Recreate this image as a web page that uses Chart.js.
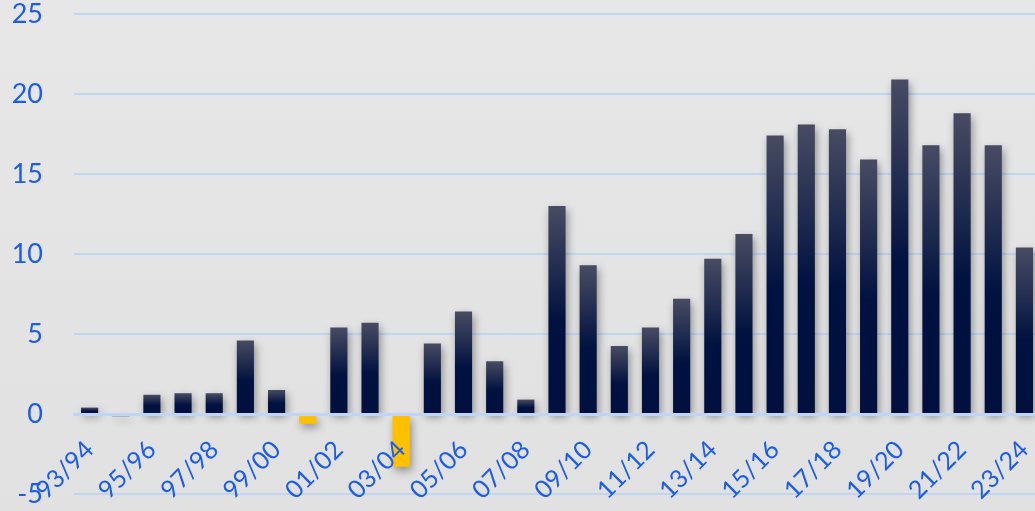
<!DOCTYPE html>
<html>
<head>
<meta charset="utf-8">
<script src="https://cdn.jsdelivr.net/npm/chart.js@4"></script>
<style>
  html, body { margin: 0; padding: 0; overflow: hidden; width: 1035px; height: 511px;
    background: linear-gradient(#e7e7e7, #e1e1e1); }
  #wrap { position: absolute; left: 0; top: 0; width: 1040px; height: 511px; }
</style>
</head>
<body>
<div id="wrap"><canvas id="c" width="1040" height="511"></canvas></div>
<script>
const categories = ['93/94','94/95','95/96','96/97','97/98','98/99','99/00','00/01','01/02','02/03',
  '03/04','04/05','05/06','06/07','07/08','08/09','09/10','10/11','11/12','12/13',
  '13/14','14/15','15/16','16/17','17/18','18/19','19/20','20/21','21/22','22/23','23/24'];
const values = [0.4, -0.15, 1.2, 1.3, 1.3, 4.6, 1.5, -0.6, 5.4, 5.7,
  -3.3, 4.4, 6.4, 3.3, 0.9, 13.0, 9.3, 4.25, 5.4, 7.2,
  9.7, 11.25, 17.4, 18.1, 17.8, 15.9, 20.9, 16.8, 18.8, 16.8, 10.4];
const yTicks = [-5, 0, 5, 10, 15, 20, 25];

const TEXT = '#1a5cf0';
const GRID = '#bfd5f6';

const shadowPlugin = {
  id: 'shadow',
  beforeDatasetsDraw(chart) {
    const c = chart.ctx; c.save();
    c.shadowColor = 'rgba(0,0,0,0.38)';
    c.shadowBlur = 8; c.shadowOffsetX = 2; c.shadowOffsetY = 4;
  },
  afterDatasetsDraw(chart) { chart.ctx.restore(); }
};

new Chart(document.getElementById('c'), {
  type: 'bar',
  data: {
    labels: categories,
    datasets: [{
      data: values,
      barPercentage: 0.55,
      categoryPercentage: 1,
      borderWidth: 0,
      backgroundColor: (ctx) => {
        const v = ctx.raw;
        if (v < -0.3) return '#ffc000';
        if (v < 0) return '#6a78a8';
        const chart = ctx.chart;
        if (!chart.chartArea) return '#011240';
        const y = chart.scales.y;
        const top = y.getPixelForValue(v), bot = y.getPixelForValue(0);
        if (bot - top < 1) return '#011240';
        const g = chart.ctx.createLinearGradient(0, top, 0, bot);
        g.addColorStop(0, '#484c63');
        g.addColorStop(0.55, '#011240');
        g.addColorStop(1, '#01103e');
        return g;
      }
    }]
  },
  options: {
    responsive: false,
    animation: false,
    devicePixelRatio: 1,
    layout: { padding: { top: 14, bottom: 17, left: 0, right: 0 } },
    plugins: { legend: { display: false }, tooltip: { enabled: false } },
    scales: {
      x: {
        position: { y: 0 },
        offset: true,
        afterFit: (s) => {
          s.height = 0;
          s.paddingLeft = 0; s.paddingRight = 0; s.paddingTop = 0; s.paddingBottom = 0;
        },
        grid: { display: false, drawTicks: false },
        border: { display: true, color: GRID, width: 3, z: 1 },
        ticks: {
          z: 1,
          autoSkip: false, maxRotation: 45, minRotation: 45,
          padding: 21,
          color: TEXT,
          font: { family: 'Lato', size: 25 },
          callback: (v, i) => (i % 2 === 0 ? categories[i] : '')
        }
      },
      y: {
        min: -5, max: 25,
        afterFit: (s) => {
          s.width = 74;
          s.paddingTop = 0; s.paddingBottom = 0; s.paddingLeft = 0; s.paddingRight = 0;
        },
        afterBuildTicks: (s) => { s.ticks = yTicks.map(v => ({ value: v })); },
        grid: { color: GRID, lineWidth: 2, drawTicks: false },
        border: { display: false },
        ticks: {
          padding: 31,
          color: TEXT,
          font: { family: 'Lato', size: 27, lineHeight: 1.0 }
        }
      }
    }
  },
  plugins: [shadowPlugin]
});
</script>
</body>
</html>
